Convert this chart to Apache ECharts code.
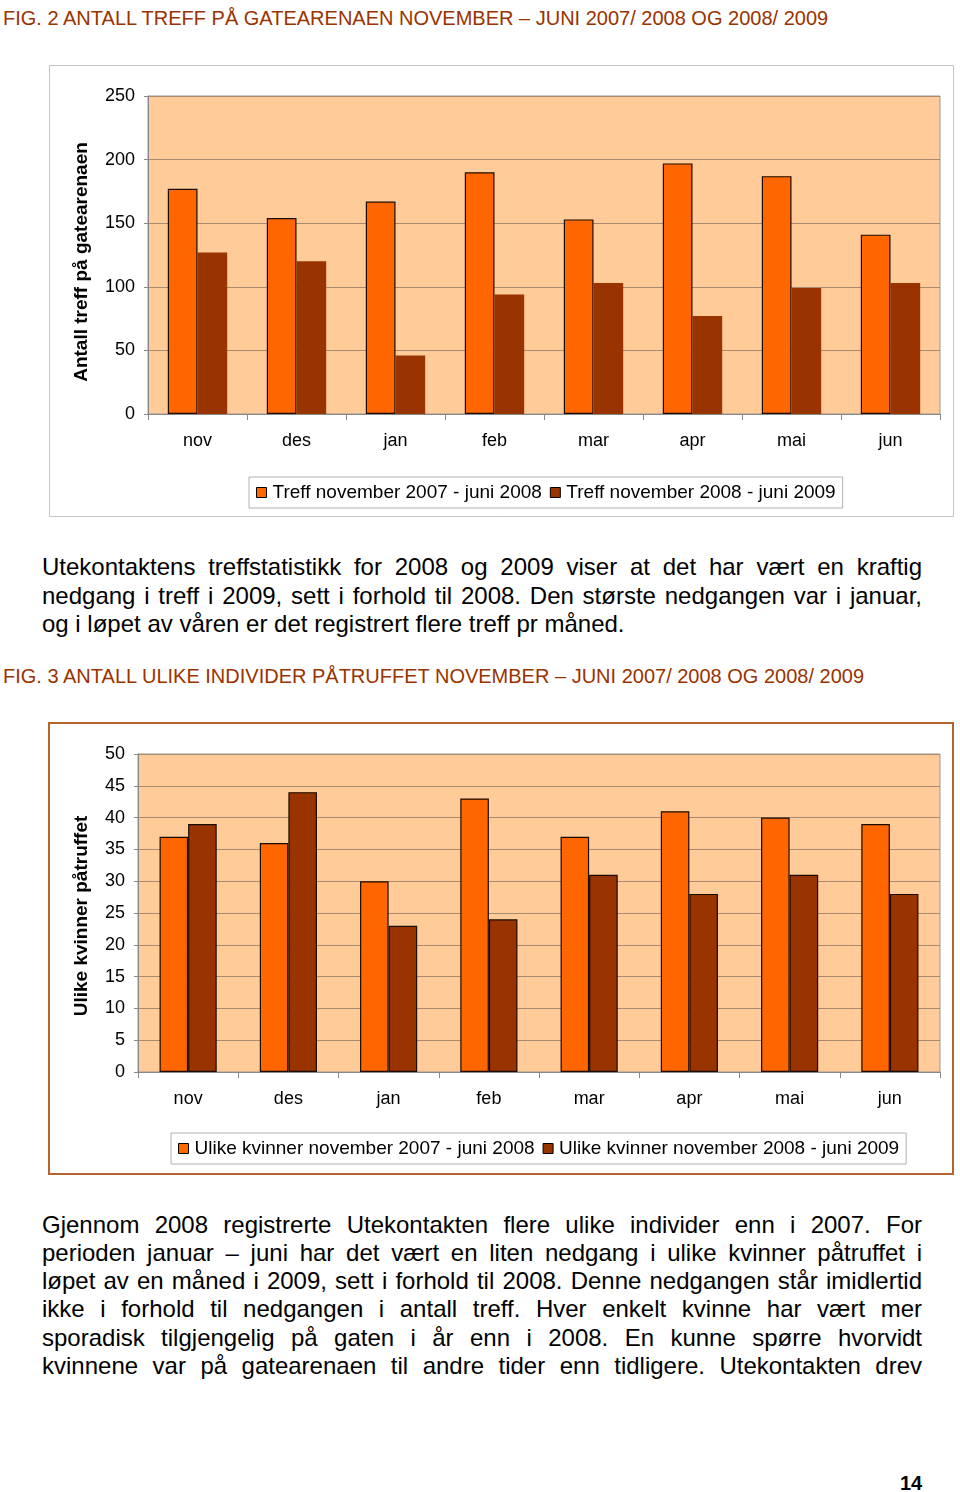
<!DOCTYPE html>
<html><head><meta charset="utf-8">
<script src="https://cdn.jsdelivr.net/npm/echarts@6/dist/echarts.min.js"></script>
<style>
html,body{margin:0;padding:0;background:#fff;}
body{width:960px;height:1492px;position:relative;font-family:"Liberation Sans",Arial,sans-serif;overflow:hidden;}
.fig{position:absolute;left:3px;color:#993300;font-size:20px;white-space:nowrap;}
.line{position:absolute;left:42px;width:880px;font-size:24px;color:#000;text-align:justify;text-align-last:justify;line-height:28px;}
.last{text-align-last:left;}
#c1{position:absolute;left:0;top:0;width:960px;height:530px;}
#c2{position:absolute;left:0;top:700px;width:960px;height:500px;}
.pg{position:absolute;left:900px;top:1472px;font-size:20px;font-weight:bold;}
</style></head><body>
<div class="fig" style="top:7px">FIG. 2 ANTALL TREFF PÅ GATEARENAEN NOVEMBER – JUNI 2007/ 2008 OG 2008/ 2009</div>
<div id="c1"></div>
<div class="line" style="top:553px">Utekontaktens treffstatistikk for 2008 og 2009 viser at det har vært en kraftig</div>
<div class="line" style="top:582px">nedgang i treff i 2009, sett i forhold til 2008. Den største nedgangen var i januar,</div>
<div class="line last" style="top:610px">og i løpet av våren er det registrert flere treff pr måned.</div>
<div class="fig" style="top:665px">FIG. 3 ANTALL ULIKE INDIVIDER PÅTRUFFET NOVEMBER – JUNI 2007/ 2008 OG 2008/ 2009</div>
<div id="c2"></div>
<div class="line" style="top:1211px">Gjennom 2008 registrerte Utekontakten flere ulike individer enn i 2007. For</div>
<div class="line" style="top:1239px">perioden januar – juni har det vært en liten nedgang i ulike kvinner påtruffet i</div>
<div class="line" style="top:1267px">løpet av en måned i 2009, sett i forhold til 2008. Denne nedgangen står imidlertid</div>
<div class="line" style="top:1295px">ikke i forhold til nedgangen i antall treff. Hver enkelt kvinne har vært mer</div>
<div class="line" style="top:1324px">sporadisk tilgjengelig på gaten i år enn i 2008. En kunne spørre hvorvidt</div>
<div class="line" style="top:1352px">kvinnene var på gatearenaen til andre tider enn tidligere. Utekontakten drev</div>
<div class="pg">14</div>
<script>
const months = ['nov','des','jan','feb','mar','apr','mai','jun'];
const treffName1 = 'Treff november 2007 - juni 2008';
const treffName2 = 'Treff november 2008 - juni 2009';
const treff2008 = [177, 154, 167, 190, 153, 197, 187, 141];
const treff2009 = [127, 120, 46, 94, 103, 77, 99, 103];
const kvName1 = 'Ulike kvinner november 2007 - juni 2008';
const kvName2 = 'Ulike kvinner november 2008 - juni 2009';
const kvinner2008 = [37, 36, 30, 43, 37, 41, 40, 39];
const kvinner2009 = [39, 44, 23, 24, 31, 28, 31, 28];

const FONT = '"Liberation Sans", Arial, sans-serif';
const C1 = '#FF6600', C2 = '#993300';

function makeOpt(cfg){
  return {
    animation:false,
    textStyle:{fontFamily:FONT},
    graphic:[
      {type:'rect',shape:cfg.box,style:{fill:'none',stroke:cfg.boxColor,lineWidth:cfg.boxWidth},silent:true},
      {type:'text',x:cfg.nameX,y:cfg.nameY,rotation:Math.PI/2,style:{text:cfg.yName,fontFamily:FONT,fontSize:19,fontWeight:'bold',fill:'#000',align:'center',verticalAlign:'middle'}}
    ],
    legend:{
      left:cfg.legendLeft, top:cfg.legendTop, orient:'horizontal',
      borderColor:'#b0b0b0', borderWidth:1, padding:[6,7,6,7], itemGap:8,
      itemWidth:10, itemHeight:10, icon:'rect',
      itemStyle:{borderColor:'#000',borderWidth:1},
      textStyle:{fontFamily:FONT,fontSize:19,color:'#000',padding:[0,0,0,1]},
      data:[cfg.n1,cfg.n2]
    },
    grid:{left:cfg.gl,top:cfg.gt,width:cfg.gw,height:318,show:true,backgroundColor:'#FFCC99',borderColor:'#999',borderWidth:1},
    xAxis:{type:'category',data:months,boundaryGap:true,
      axisLine:{lineStyle:{color:'#888'}},
      axisTick:{show:true,length:6,lineStyle:{color:'#888'}},
      axisLabel:{fontFamily:FONT,fontSize:18,color:'#000',margin:18}},
    yAxis:{type:'value',min:0,max:cfg.max,interval:cfg.interval,
      axisLine:{show:true,lineStyle:{color:'#888'}},
      axisTick:{show:true,length:4,lineStyle:{color:'#888'}},
      splitLine:{lineStyle:{color:'#A88B6E'}},
      axisLabel:{fontFamily:FONT,fontSize:18,color:'#000',margin:13}},
    series:[
      {name:cfg.n1,type:'bar',data:cfg.d1,barGap:'0%',barCategoryGap:cfg.gap,
        itemStyle:{color:C1,borderColor:'#1a0a00',borderWidth:1.2}},
      {name:cfg.n2,type:'bar',data:cfg.d2,barGap:'0%',barCategoryGap:cfg.gap,
        itemStyle:{color:C2,borderColor:cfg.b2?'#1a0a00':C2,borderWidth:cfg.b2?1.2:0}}
    ]
  };
}

const ch1 = echarts.init(document.getElementById('c1'));
ch1.setOption(makeOpt({
  box:{x:49.5,y:65.5,width:904,height:451}, boxColor:'#c4c4c4', boxWidth:1,
  yName:'Antall treff på gatearenaen', nameX:82, nameY:262,
  legendLeft:249, legendTop:477, n1:treffName1, n2:treffName2,
  gl:148, gt:96, gw:792, max:250, interval:50, d1:treff2008, d2:treff2009, gap:'40%', b2:false
}));

const ch2 = echarts.init(document.getElementById('c2'));
ch2.setOption(makeOpt({
  box:{x:49,y:23,width:904,height:451}, boxColor:'#B5642C', boxWidth:2,
  yName:'Ulike kvinner påtruffet', nameX:82, nameY:216,
  legendLeft:171, legendTop:433, n1:kvName1, n2:kvName2,
  gl:138, gt:54, gw:802, max:50, interval:5, d1:kvinner2008, d2:kvinner2009, gap:'43%', b2:true
}));
</script>
</body></html>
